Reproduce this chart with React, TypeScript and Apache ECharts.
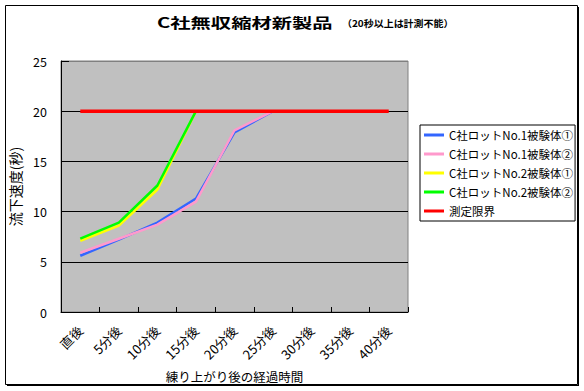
import React, { useEffect, useRef } from 'react';
import * as echarts from 'echarts';

const FONT = '"Noto Sans CJK JP", "Noto Sans", sans-serif';

const categories = ['直後', '5分後', '10分後', '15分後', '20分後', '25分後', '30分後', '35分後', '40分後'];
const seriesNames = [
  'C社ロットNo.1被験体①',
  'C社ロットNo.1被験体②',
  'C社ロットNo.2被験体①',
  'C社ロットNo.2被験体②',
  '測定限界',
];
const seriesColors = ['#3366ff', '#ff99cc', '#ffff00', '#00ff00', '#ff0000'];
const lot1Sample1 = [5.6, 7.2, 8.9, 11.3, 17.9, 20, null, null, null];
const lot1Sample2 = [5.9, 7.3, 8.7, 11.0, 18.1, 20, null, null, null];
const lot2Sample1 = [7.1, 8.6, 12.2, 20, null, null, null, null, null];
const lot2Sample2 = [7.3, 8.9, 12.6, 20, null, null, null, null, null];
const measureLimit = [20, 20, 20, 20, 20, 20, 20, 20, 20];
const seriesData = [lot1Sample1, lot1Sample2, lot2Sample1, lot2Sample2, measureLimit];

const titleMain = 'C社無収縮材新製品';
const titleSub = '（20秒以上は計測不能）';
const xAxisName = '練り上がり後の経過時間';
const yAxisName = '流下速度(秒)';
const yMin = 0;
const yMax = 25;
const yInterval = 5;

export default function App() {
  const ref = useRef<HTMLDivElement>(null);
  useEffect(() => {
    if (!ref.current) return;
    const chart = echarts.init(ref.current, null, { renderer: 'svg' });
    chart.setOption({
      animation: false,
      backgroundColor: '#ffffff',
      textStyle: { fontFamily: FONT },
      grid: {
        left: 61,
        right: 176,
        top: 61,
        bottom: 79,
        show: true,
        backgroundColor: '#c0c0c0',
        borderColor: '#808080',
        borderWidth: 1,
      },
      legend: {
        orient: 'vertical',
        left: 420,
        top: 125,
        borderColor: '#000',
        borderWidth: 1,
        backgroundColor: '#fff',
        padding: [3, 2, 3, 4],
        itemWidth: 20,
        itemHeight: 3,
        itemGap: 5,
        icon: 'rect',
        data: seriesNames,
        textStyle: { fontFamily: FONT, fontSize: 11.5, lineHeight: 14, color: '#000' },
      },
      xAxis: {
        type: 'category',
        data: categories,
        boundaryGap: true,
        axisLine: { show: true, lineStyle: { color: '#000', width: 1 } },
        axisTick: { show: true, inside: true, length: 5, alignWithLabel: false, lineStyle: { color: '#000' } },
        axisLabel: { rotate: 45, margin: 16, interval: 0, fontSize: 13, color: '#000', fontFamily: FONT },
        splitLine: { show: false },
        name: xAxisName,
        nameLocation: 'middle',
        nameGap: 58,
        nameTextStyle: { fontSize: 12.5, color: '#000', fontFamily: FONT, verticalAlign: 'top' },
      },
      yAxis: {
        type: 'value',
        min: yMin,
        max: yMax,
        interval: yInterval,
        axisLine: { show: true, lineStyle: { color: '#000', width: 1 } },
        axisTick: { show: true, inside: true, length: 8, lineStyle: { color: '#000' } },
        axisLabel: { margin: 14, fontSize: 12.5, color: '#000', fontFamily: FONT },
        splitLine: {
          show: true,
          lineStyle: { color: ['#000', '#000', '#000', '#000', '#000', '#808080'], width: 1 },
        },
        name: yAxisName,
        nameLocation: 'middle',
        nameRotate: 90,
        nameGap: 33,
        nameTextStyle: { fontSize: 14, color: '#000', fontFamily: FONT },
      },
      series: seriesNames.map((name, i) => ({
        name,
        type: 'line',
        data: seriesData[i],
        symbol: 'none',
        connectNulls: false,
        color: seriesColors[i],
        lineStyle: { color: seriesColors[i], width: i === 4 ? 3.5 : 2.5 },
        z: 2 + i,
      })),
      graphic: [
        {
          type: 'rect',
          shape: { x: 5.5, y: 5.5, width: 572, height: 379 },
          style: { fill: 'none', stroke: '#000', lineWidth: 1 },
          silent: true,
        },
        {
          type: 'line',
          shape: { x1: 578.5, y1: 7, x2: 578.5, y2: 386 },
          style: { stroke: '#000', lineWidth: 1 },
          silent: true,
        },
        {
          type: 'line',
          shape: { x1: 7, y1: 385.5, x2: 579, y2: 385.5 },
          style: { stroke: '#000', lineWidth: 1 },
          silent: true,
        },
        {
          type: 'text',
          x: 157,
          y: 22,
          scaleX: 1.45,
          style: {
            text: titleMain,
            font: 'bold 14px ' + FONT,
            fill: '#000',
            textAlign: 'left',
            verticalAlign: 'middle',
            textVerticalAlign: 'middle',
          },
        },
        {
          type: 'text',
          x: 342,
          y: 23,
          scaleX: 1.05,
          style: {
            text: titleSub,
            font: 'bold 9.5px ' + FONT,
            fill: '#000',
            textAlign: 'left',
            verticalAlign: 'middle',
            textVerticalAlign: 'middle',
          },
        },
      ],
    });
    return () => chart.dispose();
  }, []);
  return (
    <div
      ref={ref}
      style={{ position: 'fixed', left: 0, top: 0, width: 584, height: 391 }}
    />
  );
}
